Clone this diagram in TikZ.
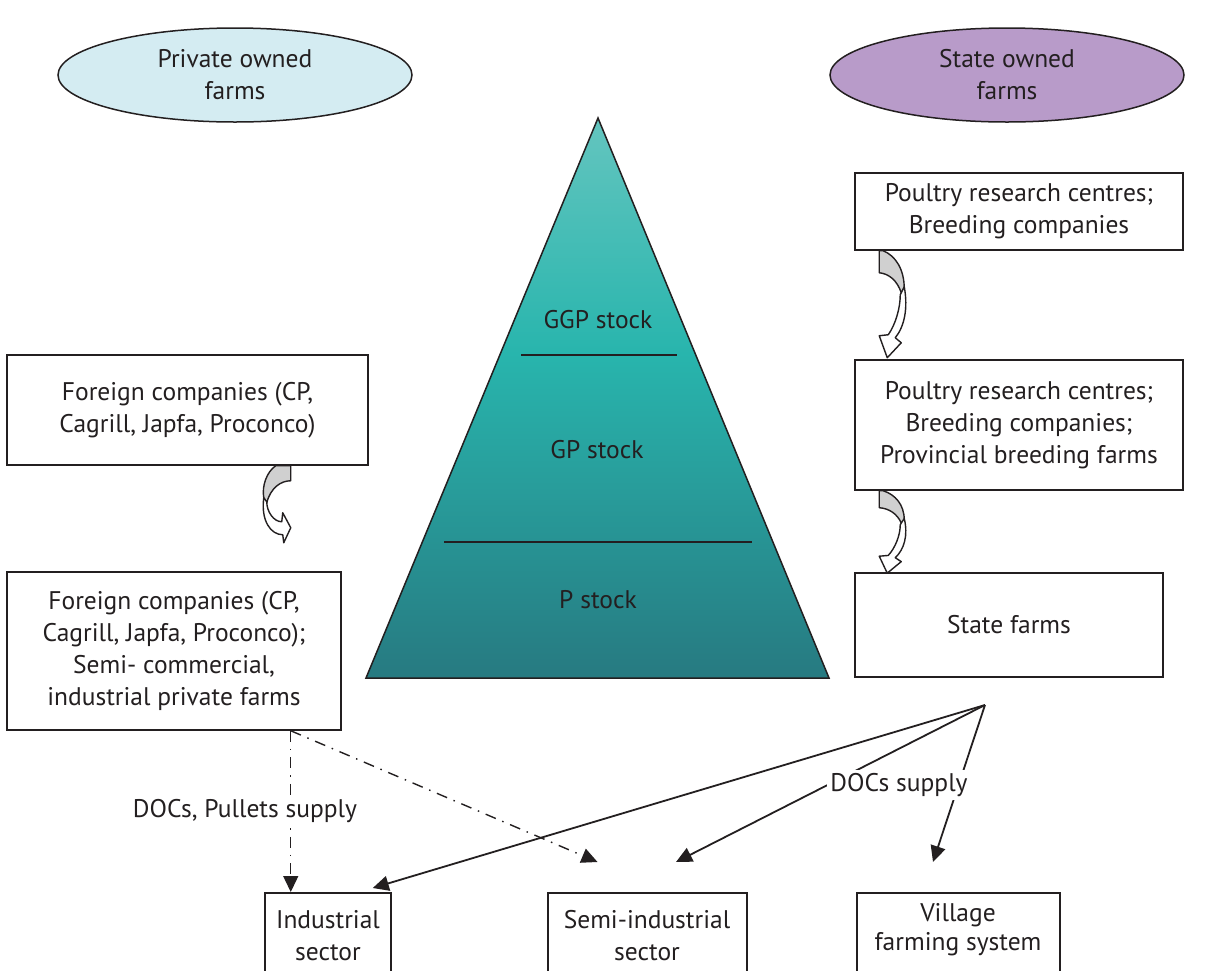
\documentclass[tikz,border=0pt]{standalone}
\usepackage{fontspec}
\setmainfont{PT Sans}
\usetikzlibrary{shapes.geometric,arrows.meta}
\definecolor{txt}{RGB}{35,31,32}
\definecolor{ellL}{RGB}{212,236,242}
\definecolor{ellR}{RGB}{184,155,201}
\definecolor{triTop}{RGB}{100,197,191}
\definecolor{triMid}{RGB}{40,181,173}
\definecolor{triBot}{RGB}{39,122,129}
\definecolor{backgray}{RGB}{208,208,208}
\pgfdeclareverticalshading{pyrshade}{100bp}{color(0bp)=(triBot); color(25bp)=(triBot); color(54bp)=(triMid); color(75bp)=(triTop); color(100bp)=(triTop)}
\newcommand{\curlR}{%
 \filldraw[fill=backgray, draw=txt, line width=1.4pt, line join=round] (0,0) -- (4,0) .. controls (16,5) and (25,18) .. (25,38) -- (22,42) .. controls (18,30) and (10,23) .. (0,22) -- cycle;
 \filldraw[fill=white, draw=txt, line width=1.4pt, line join=round] (25,36) .. controls (29,58) and (25,76) .. (16,87) -- (22,92) -- (8,107) -- (0,85) -- (9,84) .. controls (16,74) and (21,58) .. (21,44) -- cycle;}
\newcommand{\curlL}{%
 \filldraw[fill=backgray, draw=txt, line width=1.4pt, line join=round] (0,0) -- (15,0) .. controls (24,6) and (29,20) .. (27,32) -- (24,37) .. controls (20,22) and (10,15) .. (0,15) -- cycle;
 \filldraw[fill=white, draw=txt, line width=1.4pt, line join=round] (27,32) .. controls (30,55) and (20,69) .. (8,69) -- (7,77) -- (0,62) -- (8,47) -- (9,56) .. controls (17,56) and (24,46) .. (24,36) -- cycle;}
\begin{document}
\begin{tikzpicture}[x=1pt,y=-1pt, font=\fontsize{25.5}{32}\selectfont, text=txt,
  box/.style={draw=txt, fill=white, align=center, inner sep=0pt, line width=1.5pt},
  ell/.style={ellipse, draw=txt, line width=1.5pt, align=center, inner sep=0pt, minimum width=354pt, minimum height=94pt},
  arr/.style={-{Triangle[length=16pt,width=15pt]}, line width=1.8pt, draw=txt},
  dd/.style={arr, line width=1.4pt, dash pattern=on 11pt off 7pt on 1.5pt off 7pt},
  lbl/.style={fill=white, inner sep=3pt},
  plain/.style={align=center, inner sep=0pt}]
\useasboundingbox (0,0) rectangle (1210,970);
\clip (0,0) rectangle (1210,970);
\fill[white] (0,0) rectangle (1210,970);

% pyramid
\coordinate (apex) at (598,118);
\coordinate (bl) at (366,678);
\coordinate (br) at (829,678);
\shade[shading=pyrshade] (apex) -- (bl) -- (br) -- cycle;
\draw[txt, line width=1.5pt, line join=miter] (apex) -- (bl) -- (br) -- cycle;
\coordinate (g1) at (521,355); \coordinate (g2) at (677,355);
\coordinate (p1) at (444,542); \coordinate (p2) at (752,542);
\draw[txt, line width=1.8pt] (g1) -- (g2);
\draw[txt, line width=1.8pt] (p1) -- (p2);
\node[plain] (ggp) at (598,320) {GGP stock};
\node[plain] (gp) at (597,450) {GP stock};
\node[plain] (pst) at (598,600) {P stock};

% ellipses
\node[ell, fill=ellL] (priv) at (235,75) {Private owned\\farms};
\node[ell, fill=ellR] (state) at (1007,75) {State owned\\farms};

% right boxes
\node[box, minimum width=328pt, minimum height=77pt] (rb1) at (1019,211.5) {Poultry research centres;\\Breeding companies};
\node[box, minimum width=328pt, minimum height=130pt] (rb2) at (1019,425) {Poultry research centres;\\Breeding companies;\\Provincial breeding farms};
\node[box, minimum width=308pt, minimum height=104pt] (sf) at (1009,625) {State farms};

% left boxes
\node[box, minimum width=361pt, minimum height=110pt] (lb1) at (187.5,410) {Foreign companies (CP,\\Cagrill, Japfa, Proconco)};
\node[box, minimum width=334pt, minimum height=158pt] (lb2) at (174,651) {Foreign companies (CP,\\Cagrill, Japfa, Proconco);\\Semi- commercial,\\industrial private farms};

% bottom boxes (open at the bottom edge of the picture)
\node[box, minimum width=126pt, minimum height=108pt, anchor=north] (ind) at (328,892) {};
\node[box, minimum width=199pt, minimum height=108pt, anchor=north] (semi) at (647.5,892) {};
\node[box, minimum width=203pt, minimum height=108pt, anchor=north] (vil) at (958.5,892) {};
\node[plain] (indt) at (328,936) {Industrial\\sector};
\node[plain] (semit) at (647,936) {Semi-industrial\\sector};
\node[plain, font=\fontsize{25.5}{29}\selectfont] (vilt) at (958,930) {Village\\farming system};

% curled arrows
\begin{scope}[shift={(rb1.south west)}, xshift=25pt]
\curlR
\end{scope}
\begin{scope}[shift={(rb2.south west)}, xshift=25pt, yscale=0.77]
\curlR
\end{scope}
\begin{scope}[shift={(lb1.south east)}, xshift=-78pt, xscale=-1]
\curlL
\end{scope}

% connectors
\coordinate (src) at ([xshift=-51pt]lb2.south east);
\coordinate (hub) at (985,705);
\draw[dd] (src) -- (ind.north -| src);
\draw[dd] (src) -- ([xshift=-50pt,yshift=30pt]semi.north);
\draw[arr] (hub) -- ([xshift=-19pt,yshift=4pt]ind.north east);
\draw[arr] (hub) -- ([xshift=28.5pt,yshift=30pt]semi.north);
\draw[arr] (hub) -- ([xshift=-25.5pt,yshift=30pt]vil.north);

\node[lbl] (lblL) at (245,811) {DOCs, Pullets supply};
\node[lbl] (lblR) at (899,785) {DOCs supply};
\end{tikzpicture}
\end{document}
